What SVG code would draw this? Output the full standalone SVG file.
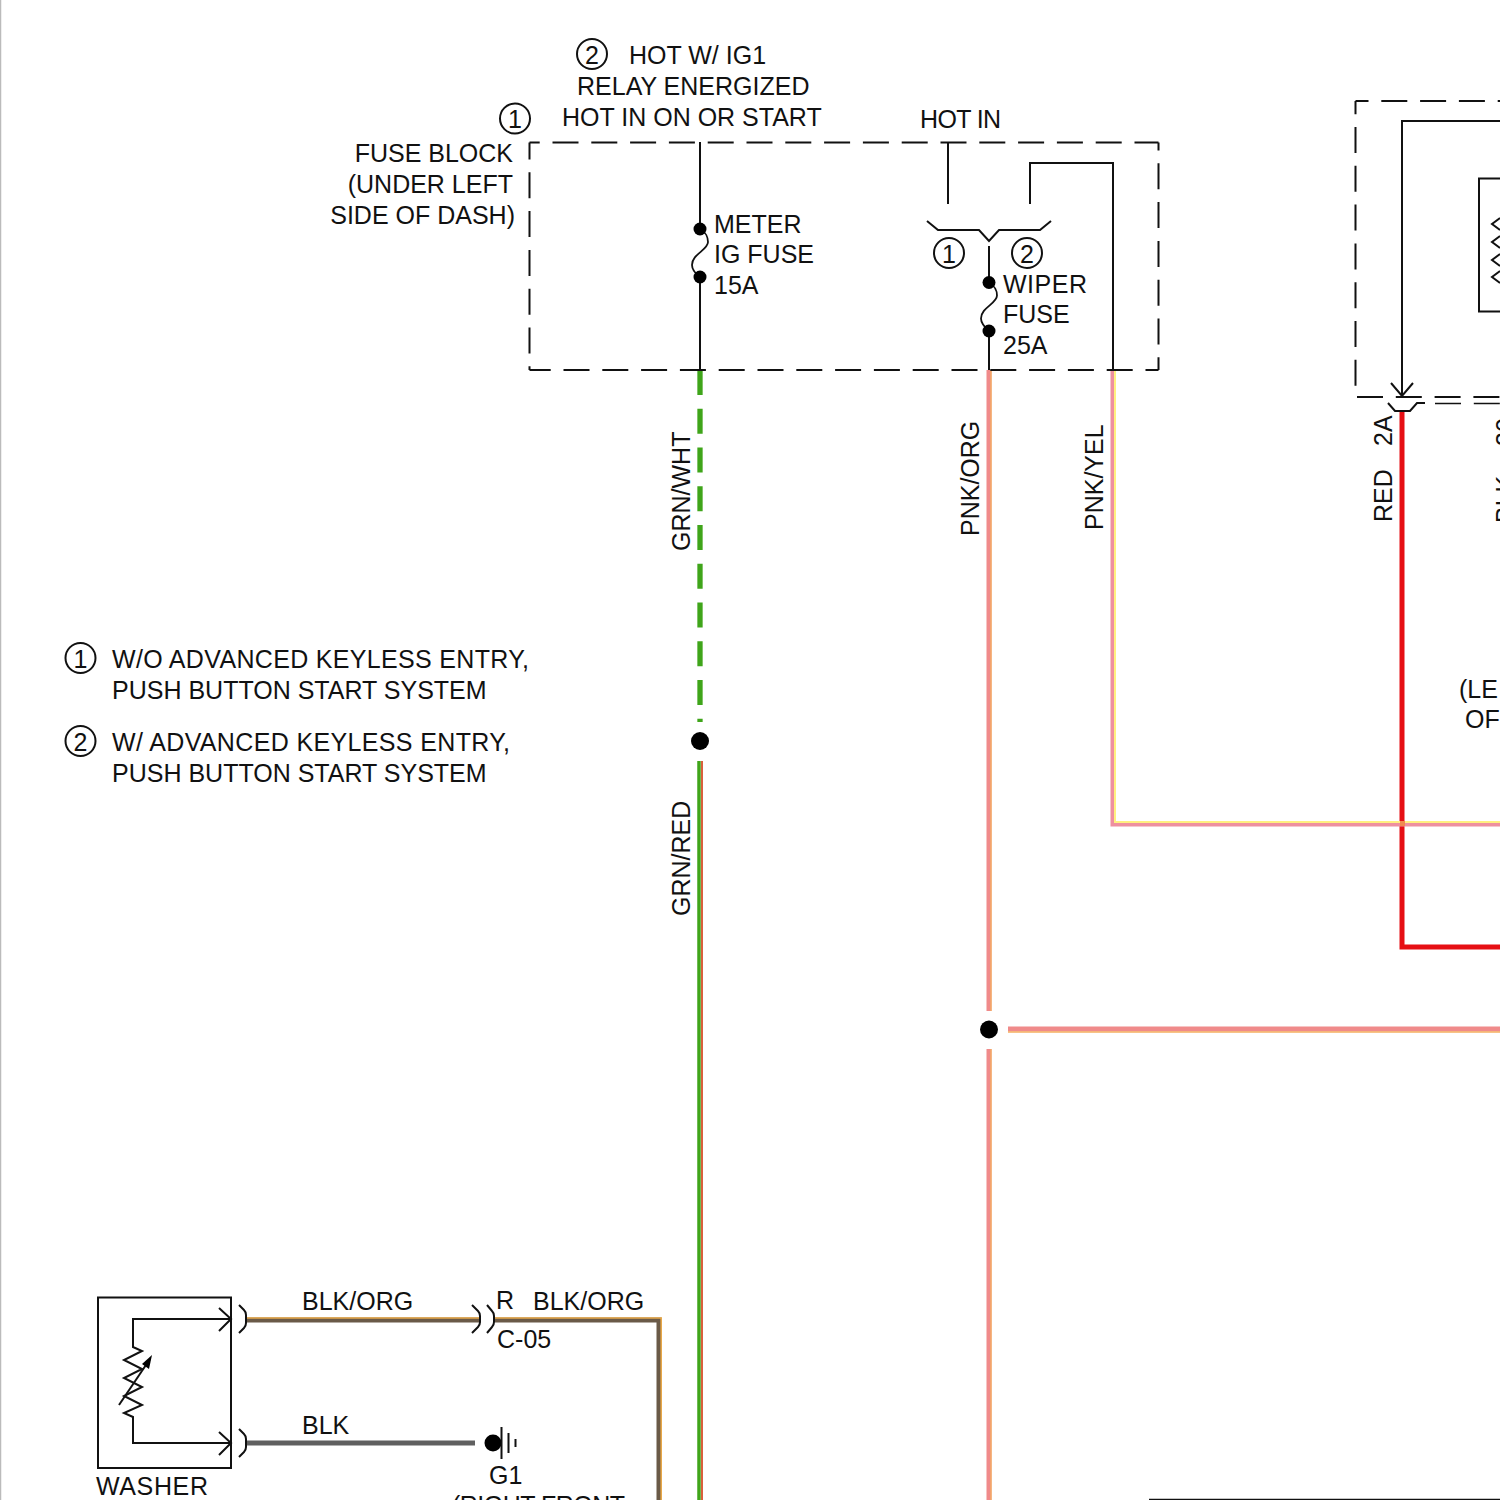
<svg xmlns="http://www.w3.org/2000/svg" width="1500" height="1500" viewBox="0 0 1500 1500">
<defs>
<style>
text{font-family:"Liberation Sans",Arial,sans-serif;font-size:25px;fill:#111}
.ln{fill:none;stroke:#111;stroke-width:2}
.thin{fill:none;stroke:#111;stroke-width:1.800}
.dash{fill:none;stroke:#111;stroke-width:2;stroke-dasharray:26 12.800}
.dot{fill:#000}
.circ{fill:none;stroke:#111;stroke-width:2}
.n{text-anchor:middle}
</style>
</defs>
<rect width="1500" height="1500" fill="#fff"/>
<line x1="0.500" y1="0" x2="0.500" y2="1500" stroke="#bbb" stroke-width="1.500"/>
<g id="connectors">
<path d="M700 370V722" fill="none" stroke="#3fa51a" stroke-width="5.300" stroke-dasharray="25 13.750"/>
<path d="M699 761V1500" fill="none" stroke="#3fa51a" stroke-width="3.500"/>
<path d="M702 761V1500" fill="none" stroke="#d8603c" stroke-width="2"/>
<path d="M989 370V1011M989 1049V1500M1008 1029H1500" fill="none" stroke="#f08a8a" stroke-width="5"/>
<path d="M1008 1032H1500M991 370V1011M991 1049V1500" fill="none" stroke="#f5b060" stroke-width="1.300"/>
<path d="M1402 412V947H1500" fill="none" stroke="#e60f14" stroke-width="5"/>
<path d="M1113 370V824H1500" fill="none" stroke="#ee90a0" stroke-width="5"/>
<path d="M1115 370V822H1500" fill="none" stroke="#fff080" stroke-width="2"/>
<rect x="1400" y="821" width="5" height="5" fill="#f08a50"/>
<path d="M246 1320H481M495 1320H659V1500" fill="none" stroke="#6a5a48" stroke-width="5"/>
<path d="M246 1318H481M495 1318H661.200V1500" fill="none" stroke="#e8a848" stroke-width="1.600"/>
<path d="M246 1443H475" fill="none" stroke="#606060" stroke-width="5"/>
</g>
<g id="fuse-block">
<path class="dash" stroke-dashoffset="15.800" d="M529.500 142.500H1158.500"/>
<path class="dash" stroke-dashoffset="9" d="M529.500 142.500V370"/>
<path class="dash" stroke-dashoffset="4.800" d="M529.500 370H1158.500"/>
<path class="dash" stroke-dashoffset="18" d="M1158.500 142.500V370"/>
<text x="513" y="162" text-anchor="end">FUSE BLOCK</text>
<text x="513" y="193" text-anchor="end">(UNDER LEFT</text>
<text x="515" y="224" text-anchor="end">SIDE OF DASH)</text>
<circle class="circ" cx="515" cy="118.500" r="15"/>
<text class="n" x="515" y="128">1</text>
</g>
<g id="hot-labels">
<circle class="circ" cx="592" cy="54" r="15"/>
<text class="n" x="592" y="64">2</text>
<text x="629" y="64">HOT W/ IG1</text>
<text x="577" y="95">RELAY ENERGIZED</text>
<text x="562" y="126">HOT IN ON OR START</text>
<text x="920" y="128" textLength="81">HOT IN</text>
</g>
<g id="meter-fuse">
<path class="ln" d="M700 142V229M700 277V370"/>
<path class="thin" d="M700 229C706 232 708 238 708 242C708 250 692 254 692 265C692 270 696 274 700 277"/>
<circle class="dot" cx="700" cy="229" r="6.500"/>
<circle class="dot" cx="700" cy="277" r="6.500"/>
<text x="714" y="233">METER</text>
<text x="714" y="263">IG FUSE</text>
<text x="714" y="294">15A</text>
</g>
<g id="wiper-fuse">
<path class="ln" d="M948 142V204M1030 204V163H1113V370"/>
<path class="ln" d="M927 221L938 230H979L989 241L999 230H1040L1051 221"/>
<path class="ln" d="M989 246V282M989 331V370"/>
<path class="thin" d="M989 282.500C995 285.500 997 291.500 997 295.500C997 303.500 981 307.500 981 318.500C981 323.500 985 327.500 989 331"/>
<circle class="dot" cx="989" cy="282.500" r="6.500"/>
<circle class="dot" cx="989" cy="331" r="6.500"/>
<circle class="circ" cx="949" cy="253" r="15"/>
<text class="n" x="949" y="263">1</text>
<circle class="circ" cx="1027" cy="253" r="15"/>
<text class="n" x="1027" y="263">2</text>
<text x="1003" y="293" textLength="84">WIPER</text>
<text x="1003" y="323">FUSE</text>
<text x="1003" y="354">25A</text>
</g>
<g id="wire-labels">
<text transform="translate(690 551) rotate(-90)">GRN/WHT</text>
<text transform="translate(690 916) rotate(-90)">GRN/RED</text>
<text transform="translate(979 536) rotate(-90)">PNK/ORG</text>
<text transform="translate(1103 530) rotate(-90)">PNK/YEL</text>
<text transform="translate(1392 522) rotate(-90)">RED</text>
<text transform="translate(1392 446) rotate(-90)">2A</text>
<text transform="translate(1514 523) rotate(-90)">BLK</text>
<text transform="translate(1514 446) rotate(-90)">30</text>
</g>
<g id="notes">
<circle class="circ" cx="80.500" cy="658" r="15"/>
<text class="n" x="80.500" y="668">1</text>
<text x="112" y="668" textLength="417">W/O ADVANCED KEYLESS ENTRY,</text>
<text x="112" y="699">PUSH BUTTON START SYSTEM</text>
<circle class="circ" cx="80.500" cy="741" r="15"/>
<text class="n" x="80.500" y="751">2</text>
<text x="112" y="751" textLength="398">W/ ADVANCED KEYLESS ENTRY,</text>
<text x="112" y="782">PUSH BUTTON START SYSTEM</text>
</g>
<g id="splices">
<circle class="dot" cx="700" cy="741" r="9"/>
<circle class="dot" cx="989" cy="1029.500" r="9"/>
</g>
<g id="right-module">
<path class="dash" stroke-dashoffset="13" d="M1355.500 101H1500"/>
<path class="dash" stroke-dashoffset="12.800" d="M1355.500 101V386"/>
<path class="dash" d="M1357 397H1500"/>
<path class="dash" style="stroke-width:1.500" d="M1435 403.500H1500"/>
<path class="ln" d="M1500 121H1402V396"/>
<path class="ln" d="M1391 383L1402 396L1413 383"/>
<path class="ln" d="M1388 403L1395 411H1410L1417 403H1425"/>
<path class="ln" d="M1500 178.500H1479V311.500H1500"/>
<path class="ln" d="M1500 218L1492 224L1500 230M1500 236L1492 242L1500 248M1500 254L1492 260L1500 266M1500 271L1492 277L1500 283"/>
<text x="1459" y="698">(LE</text>
<text x="1465" y="728">OF</text>
</g>
<g id="washer">
<rect class="ln" x="98" y="1297.500" width="133" height="170.500"/>
<path class="ln" d="M231 1319H133V1347L142 1351L124 1360L142 1369L124 1378L142 1387L124 1396L142 1405L124 1413L133 1417V1443H231"/>
<path class="ln" d="M219 1308L231 1319L219 1331M219 1432L231 1443L219 1455"/>
<path class="ln" d="M119 1405L150 1359"/>
<path class="dot" d="M152 1355L149 1369L142 1364Z"/>
<path class="ln" d="M239 1305L244 1310Q246 1312 246 1315V1323Q246 1326 244 1328L239 1333M239 1429L244 1434Q246 1436 246 1439V1447Q246 1450 244 1452L239 1457"/>
<text x="96" y="1495" textLength="112">WASHER</text>
<text x="302" y="1310">BLK/ORG</text>
<text x="302" y="1434">BLK</text>
</g>
<g id="connector-c05">
<path class="ln" d="M472 1305L478 1311Q480 1313 480 1316V1322Q480 1325 478 1327L472 1333M487 1305L492 1311Q494 1313 494 1316V1322Q494 1325 492 1327L487 1333"/>
<text x="496" y="1309">R</text>
<text x="533" y="1310">BLK/ORG</text>
<text x="497" y="1348">C-05</text>
</g>
<g id="ground-g1">
<circle class="dot" cx="493" cy="1443" r="8.500"/>
<path class="ln" d="M501.500 1427V1459M508.500 1433V1453M515.500 1439V1447"/>
<text x="489" y="1484">G1</text>
<text x="452" y="1514" textLength="173">(RIGHT FRONT</text>
</g>
<line x1="1149" y1="1499.500" x2="1500" y2="1499.500" stroke="#111" stroke-width="1.500"/>
</svg>
